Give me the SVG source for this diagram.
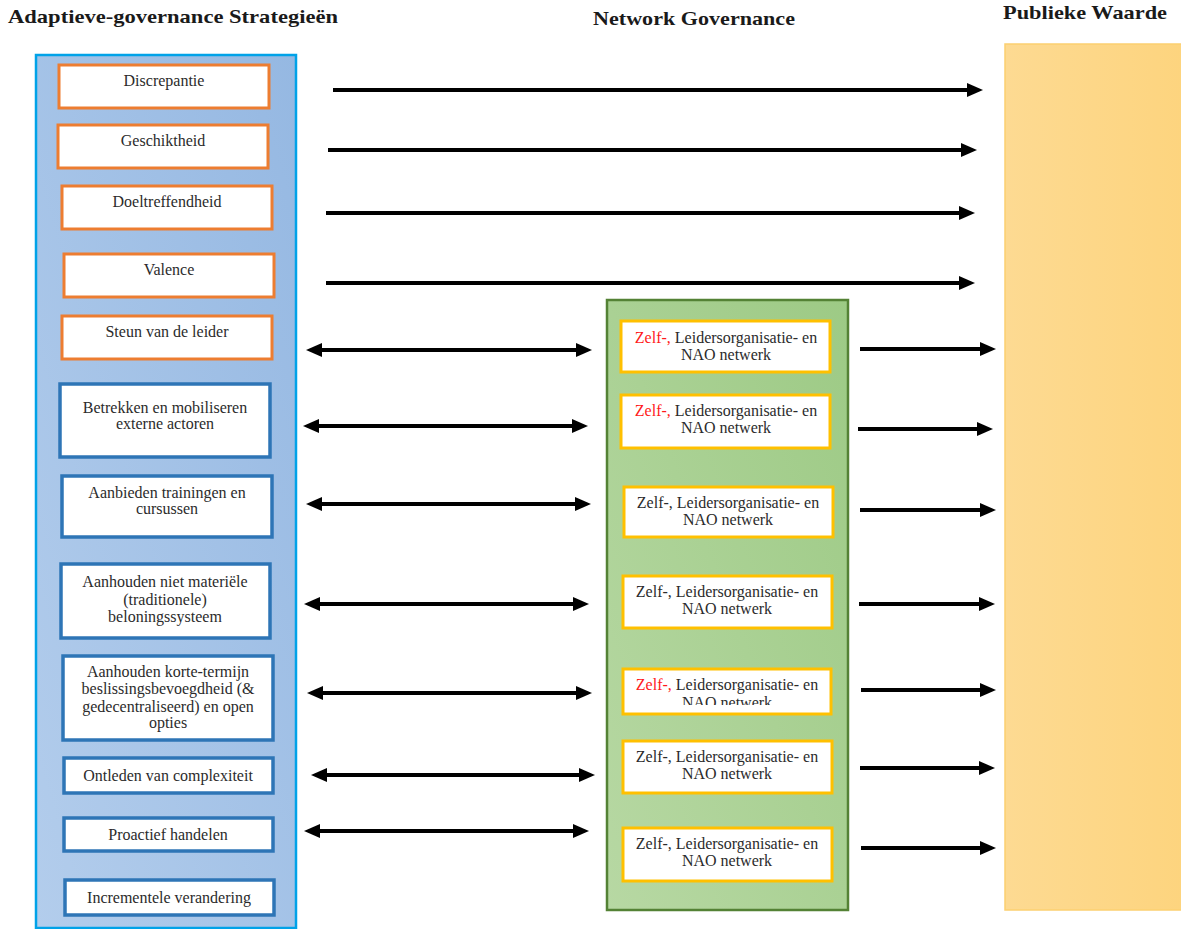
<svg xmlns="http://www.w3.org/2000/svg" width="1181" height="929" viewBox="0 0 1181 929">
<style>
.hdr{font-family:"Liberation Serif","DejaVu Serif",serif;font-weight:bold;font-size:19px;fill:#1a1a1a}
.t{font-family:"Liberation Serif","DejaVu Serif",serif;font-size:16px;fill:#2b2b2b;text-anchor:middle}
.red{fill:#ff1a1a}
.ob{fill:#ffffff;stroke:#ed7d31;stroke-width:3}
.bb{fill:#ffffff;stroke:#2e75b6;stroke-width:3.5}
.yb{fill:#ffffff;stroke:#ffc000;stroke-width:3}
.ar{stroke:#000;stroke-width:4;fill:none;marker-end:url(#ah)}
.da{stroke:#000;stroke-width:4;fill:none;marker-end:url(#ah);marker-start:url(#ah)}
</style>
<defs>
<linearGradient id="gBlue" x1="1" y1="0" x2="0" y2="1">
<stop offset="0" stop-color="#95b8e2"/>
<stop offset="1" stop-color="#b3cdec"/>
</linearGradient>
<linearGradient id="gGreen" x1="1" y1="0" x2="0" y2="1">
<stop offset="0" stop-color="#9dca85"/>
<stop offset="1" stop-color="#b7d8a3"/>
</linearGradient>
<linearGradient id="gOrange" x1="0" y1="0" x2="1" y2="0">
<stop offset="0" stop-color="#fdda92"/>
<stop offset="1" stop-color="#fdd47e"/>
</linearGradient>
<marker id="ah" markerUnits="userSpaceOnUse" markerWidth="16" markerHeight="14" refX="4" refY="7" orient="auto-start-reverse" viewBox="0 0 16 14">
<path d="M0,0 L16,7 L0,14 z" fill="#000"/>
</marker>
<clipPath id="clip5"><rect x="600" y="660" width="260" height="45"/></clipPath>
</defs>
<rect width="1181" height="929" fill="#ffffff"/>

<g id="headers">
<text class="hdr" x="8" y="23" textLength="330" lengthAdjust="spacingAndGlyphs">Adaptieve-governance Strategieën</text>
<text class="hdr" x="593" y="25" textLength="202" lengthAdjust="spacingAndGlyphs">Network Governance</text>
<text class="hdr" x="1003" y="19" textLength="164" lengthAdjust="spacingAndGlyphs">Publieke Waarde</text>
</g>

<g id="strategies-container">
<rect x="36" y="55" width="260" height="873" fill="url(#gBlue)" stroke="#00a2e8" stroke-width="2.5"/>
</g>
<g id="network-container">
<rect x="607" y="300" width="241" height="610" fill="url(#gGreen)" stroke="#548235" stroke-width="2.5"/>
</g>
<g id="publieke-waarde">
<rect x="1005" y="44" width="180" height="866" fill="url(#gOrange)" stroke="#fcd070" stroke-width="1.5"/>
</g>

<g id="s1"><rect class="ob" x="59" y="65" width="210" height="43"/><text class="t" x="164" y="86">Discrepantie</text></g>
<g id="s2"><rect class="ob" x="58" y="125" width="210" height="43"/><text class="t" x="163" y="146">Geschiktheid</text></g>
<g id="s3"><rect class="ob" x="62" y="186" width="210" height="43"/><text class="t" x="167" y="207">Doeltreffendheid</text></g>
<g id="s4"><rect class="ob" x="64" y="254" width="210" height="43"/><text class="t" x="169" y="275">Valence</text></g>
<g id="s5"><rect class="ob" x="62" y="316" width="210" height="43"/><text class="t" x="167" y="337">Steun van de leider</text></g>
<g id="s6"><rect class="bb" x="60" y="384" width="210" height="73"/><text class="t" x="165" y="413">Betrekken en mobiliseren</text><text class="t" x="165" y="429">externe actoren</text></g>
<g id="s7"><rect class="bb" x="62" y="476" width="210" height="61"/><text class="t" x="167" y="498">Aanbieden trainingen en</text><text class="t" x="167" y="514">cursussen</text></g>
<g id="s8"><rect class="bb" x="61" y="564" width="209" height="74"/><text class="t" x="165" y="587">Aanhouden niet materiële</text><text class="t" x="165" y="605">(traditionele)</text><text class="t" x="165" y="622">beloningssysteem</text></g>
<g id="s9"><rect class="bb" x="63" y="656" width="210" height="84"/><text class="t" x="168" y="677">Aanhouden korte-termijn</text><text class="t" x="168" y="694">beslissingsbevoegdheid (&amp;</text><text class="t" x="168" y="712">gedecentraliseerd) en open</text><text class="t" x="168" y="728">opties</text></g>
<g id="s10"><rect class="bb" x="64" y="758" width="209" height="35"/><text class="t" x="168" y="781">Ontleden van complexiteit</text></g>
<g id="s11"><rect class="bb" x="64" y="818" width="209" height="33"/><text class="t" x="168" y="840">Proactief handelen</text></g>
<g id="s12"><rect class="bb" x="65" y="880" width="209" height="35"/><text class="t" x="169" y="903">Incrementele verandering</text></g>

<g id="n1"><rect class="yb" x="621" y="321" width="209" height="51"/><text class="t" x="726" y="343"><tspan class="red">Zelf-,</tspan> Leidersorganisatie- en</text><text class="t" x="726" y="360">NAO netwerk</text></g>
<g id="n2"><rect class="yb" x="621" y="395" width="209" height="53"/><text class="t" x="726" y="416"><tspan class="red">Zelf-,</tspan> Leidersorganisatie- en</text><text class="t" x="726" y="433">NAO netwerk</text></g>
<g id="n3"><rect class="yb" x="624" y="487" width="209" height="50"/><text class="t" x="728" y="508">Zelf-, Leidersorganisatie- en</text><text class="t" x="728" y="525">NAO netwerk</text></g>
<g id="n4"><rect class="yb" x="623" y="576" width="209" height="52"/><text class="t" x="727" y="597">Zelf-, Leidersorganisatie- en</text><text class="t" x="727" y="614">NAO netwerk</text></g>
<g id="n5"><rect class="yb" x="623" y="669" width="208" height="45"/><g clip-path="url(#clip5)"><text class="t" x="727" y="690"><tspan class="red">Zelf-,</tspan> Leidersorganisatie- en</text><text class="t" x="727" y="708">NAO netwerk</text></g></g>
<g id="n6"><rect class="yb" x="623" y="741" width="209" height="52"/><text class="t" x="727" y="762">Zelf-, Leidersorganisatie- en</text><text class="t" x="727" y="779">NAO netwerk</text></g>
<g id="n7"><rect class="yb" x="623" y="828" width="209" height="53"/><text class="t" x="727" y="849">Zelf-, Leidersorganisatie- en</text><text class="t" x="727" y="866">NAO netwerk</text></g>

<g id="connectors">
<line class="ar" x1="333" y1="90" x2="971" y2="90"/>
<line class="ar" x1="328" y1="150" x2="965" y2="150"/>
<line class="ar" x1="326" y1="213" x2="963" y2="213"/>
<line class="ar" x1="326" y1="283" x2="963" y2="283"/>
<line class="da" x1="318" y1="350" x2="580" y2="350"/>
<line class="da" x1="315" y1="426" x2="576" y2="426"/>
<line class="da" x1="318" y1="504" x2="579" y2="504"/>
<line class="da" x1="316" y1="604" x2="577" y2="604"/>
<line class="da" x1="319" y1="693" x2="580" y2="693"/>
<line class="da" x1="323" y1="775" x2="583" y2="775"/>
<line class="da" x1="316" y1="831" x2="577" y2="831"/>
<line class="ar" x1="860" y1="349" x2="984" y2="349"/>
<line class="ar" x1="858" y1="429" x2="981" y2="429"/>
<line class="ar" x1="860" y1="510" x2="984" y2="510"/>
<line class="ar" x1="859" y1="604" x2="983" y2="604"/>
<line class="ar" x1="861" y1="690" x2="984" y2="690"/>
<line class="ar" x1="860" y1="768" x2="983" y2="768"/>
<line class="ar" x1="861" y1="848" x2="984" y2="848"/>
</g>
</svg>
